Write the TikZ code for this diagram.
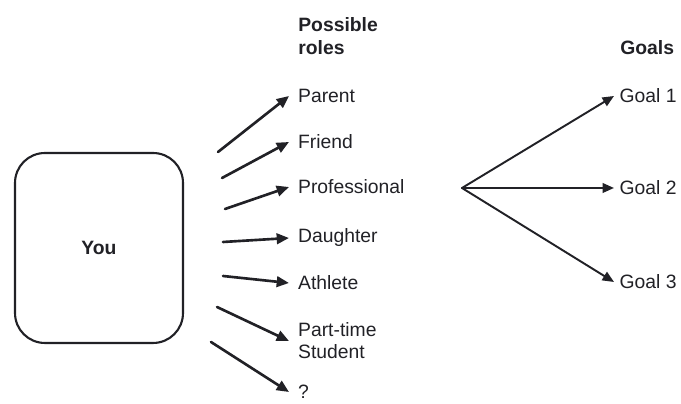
\documentclass[tikz,border=0pt]{standalone}
\usepackage{fontspec}
\setmainfont{Liberation Sans}
\definecolor{ink}{rgb}{0.13,0.13,0.15}
\usetikzlibrary{arrows.meta}

\begin{document}
\begin{tikzpicture}[x=0.02cm, y=-0.02cm, line cap=round, line join=round,
	role/.style={anchor=west, inner sep=5pt, text=ink, font=\fontsize{11}{12.5}\selectfont, align=left},
	goal/.style={anchor=west, inner sep=3pt, text=ink, font=\fontsize{11}{12.5}\selectfont},
	head/.style={anchor=west, inner sep=0pt, text=ink, font=\fontsize{11}{13.5}\selectfont\bfseries, align=left},
	toRole/.style={draw=ink, line width=1.5pt, -{Triangle[length=7pt,width=6pt]}},
	toGoal/.style={draw=ink, line width=1.1pt, -{Triangle[length=6.5pt,width=5.5pt]}}]
	\useasboundingbox (0,0) rectangle (681,404);
	% you
	\node [draw=ink, line width=1.2pt, rounded corners=17pt, minimum width=3.36cm, minimum height=3.8cm, text=ink, font=\fontsize{11}{13}\selectfont\bfseries] (you) at (99,248) {You};
	% roles
	\node [head] (rolesHead) at (298,36) {Possible\\roles};
	\node [role] (parent) at (289,96) {Parent};
	\node [role] (friend) at (289,142) {Friend};
	\node [role] (professional) at (289,187) {Professional};
	\node [role] (daughter) at (289,238) {Daughter};
	\node [role] (athlete) at (289,283) {Athlete};
	\node [role] (parttime) at (289,341) {Part-time\\Student};
	\node [role] (unknown) at (289,392) {?};
	\coordinate (s1) at (218,152);
	\coordinate (s2) at (222,178);
	\coordinate (s3) at (225,209);
	\coordinate (s4) at (223,242);
	\coordinate (s5) at (223,276);
	\coordinate (s6) at (217,307);
	\coordinate (s7) at (211,342);
	\draw [toRole] (s1) -- (parent.west);
	\draw [toRole] (s2) -- (friend.west);
	\draw [toRole] (s3) -- (professional.west);
	\draw [toRole] (s4) -- (daughter.west);
	\draw [toRole] (s5) -- (athlete.west);
	\draw [toRole] (s6) -- (parttime.west);
	\draw [toRole] (s7) -- (unknown.west);
	% goals
	\node [head] (goalsHead) at (620,48) {Goals};
	\node [goal] (goal1) at (614,96) {Goal 1};
	\node [goal] (goal2) at (614,188) {Goal 2};
	\node [goal] (goal3) at (614,282) {Goal 3};
	\coordinate (hub) at (462,188);
	\draw [toGoal] (hub) -- (goal1.west);
	\draw [toGoal] (hub) -- (goal2.west);
	\draw [toGoal] (hub) -- (goal3.west);
\end{tikzpicture}
\end{document}
